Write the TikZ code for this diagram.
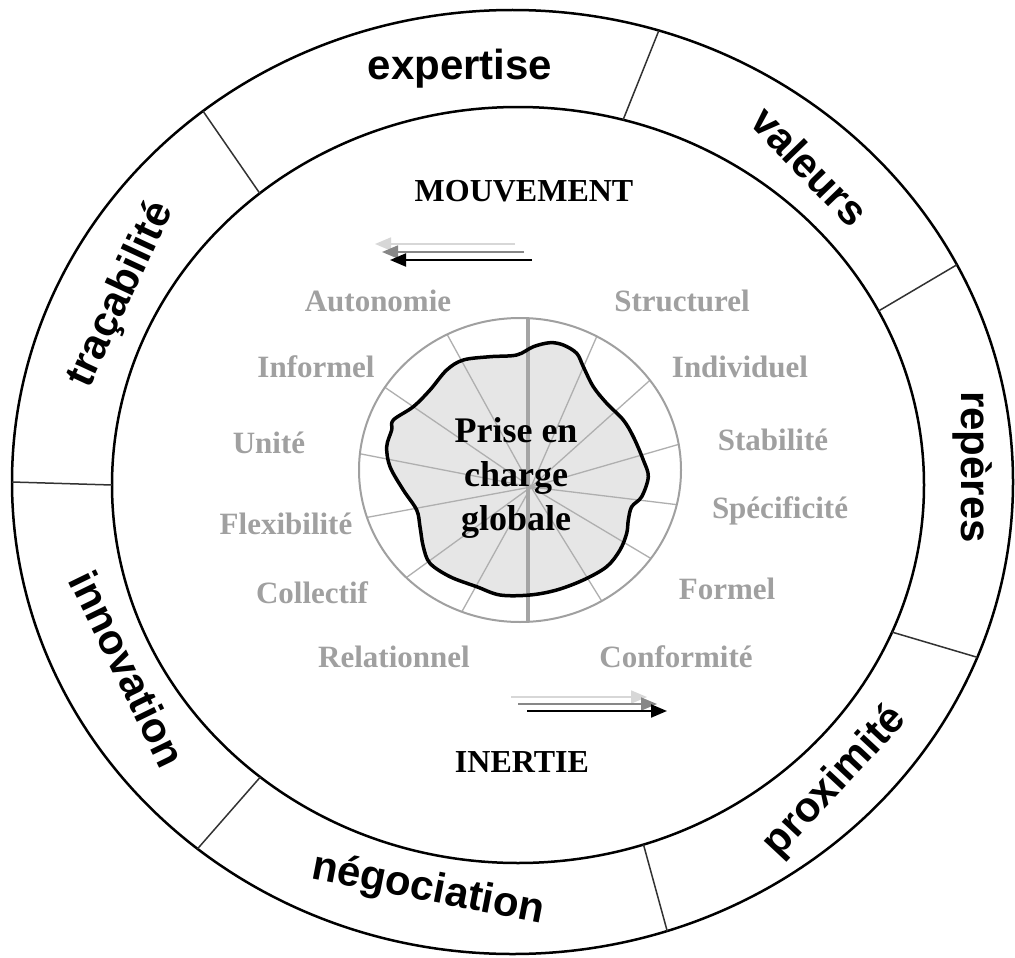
\documentclass[tikz,border=0pt]{standalone}
\usepackage{fontspec}
\setmainfont{Liberation Serif}
\newfontfamily\ringfont{Liberation Sans}
\usetikzlibrary{arrows.meta}
\definecolor{lblgray}{RGB}{160,160,160}
\definecolor{spokegray}{RGB}{175,175,175}
\definecolor{circgray}{RGB}{160,160,160}
\definecolor{vgray}{RGB}{165,165,165}
\definecolor{blobfill}{RGB}{230,230,230}
\definecolor{arrlight}{RGB}{215,215,215}
\definecolor{arrmid}{RGB}{135,135,135}
\definecolor{divgray}{RGB}{50,50,50}
\begin{document}
\begin{tikzpicture}[x=1pt,y=-1pt,
  ringword/.style={font=\ringfont\bfseries\fontsize{42}{48}\selectfont, inner sep=0pt},
  lbl/.style={font=\bfseries\fontsize{31}{36}\selectfont, text=lblgray, inner sep=0pt},
  titleword/.style={font=\bfseries\fontsize{32}{38}\selectfont, inner sep=0pt},
  centerword/.style={font=\bfseries\fontsize{36}{44}\selectfont, align=center, inner sep=0pt},
  ringline/.style={line width=2.5pt, black},
  divider/.style={line width=1.5pt, divgray},
  spoke/.style={line width=1.3pt, spokegray},
  arrhead/.style={-{Triangle[length=16pt,width=13pt]}},
]
\useasboundingbox[fill=white] (0,0) rectangle (1015,958);

% ring ellipses
\draw[ringline] (512.5,482) ellipse [x radius=500.5pt, y radius=472pt];
\draw[ringline] (518,485) ellipse [x radius=406pt, y radius=378pt];

% dividers: inner angle / outer angle
\foreach \ti/\to [count=\i] in {75/73, 129.5/128.2, 180/180, 230.6/231, 288/288, 337.1/338.2, 27.4/27.4}{
  \coordinate (din\i) at ({518+406*cos(\ti)},{485-378*sin(\ti)});
  \coordinate (dout\i) at ({512.5+500.5*cos(\to)},{482-472*sin(\to)});
  \draw[divider] (din\i) -- (dout\i);
}

% ring words
\node[ringword] (w1) at (460,69) {expertise};
\node[ringword, rotate=-46] (w2) at (810,166) {valeurs};
\node[ringword, rotate=-90] (w3) at (973,467) {repères};
\node[ringword, rotate=47] (w4) at (835,782) {proximité};
\node[ringword, rotate=-11] (w5) at (428,890) {négociation};
\node[ringword, rotate=-64] (w6) at (128,669) {innovation};
\node[ringword, rotate=65] (w7) at (121,295) {traçabilité};

% central blob fill
\fill[blobfill] plot[smooth cycle, tension=0.55] coordinates {
(550.0,342.7) (563.3,345) (576.7,353.3) (583.3,366.7) (593.3,386.7) (606.7,403.3)
(623.3,420) (633.3,436.7) (643.3,460) (648.3,476.7) (641.7,496.7) (631.7,506.7)
(628.3,520) (626.7,533.3) (620,550) (606.7,566.7) (583.3,580) (556.7,590)
(530,595) (500,595) (476.7,586.7) (450,576.7) (430,563.3) (423.3,546.7)
(420,526.7) (416.7,510) (403.3,490) (390,466.7) (386.7,446.7) (391.7,430)
(393.3,420) (413.3,406.7) (430,390) (446.7,370) (463.3,360) (490,356.7)
(516.7,355) (533.3,346.7)};

% spokes and vertical line, clipped to small circle
\begin{scope}
  \clip (520,470) ellipse [x radius=161pt, y radius=152pt];
  \coordinate (hub) at (531,487);
  \foreach \a in {118.8,145.7,169,190.5,216,241,66.4,41.9,16.1,-6.9,-30.8,-58.2}{
    \draw[spoke] (hub) -- ++({260*cos(\a)},{-260*sin(\a)});
  }
  \coordinate (vtop) at (528,300);
  \coordinate (vbot) at (528,650);
  \draw[line width=4.5pt, vgray] (vtop) -- (vbot);
\end{scope}
\draw[line width=2pt, circgray] (520,470) ellipse [x radius=161pt, y radius=152pt];

% blob outline
\draw[line width=3.5pt, black, line join=round] plot[smooth cycle, tension=0.55] coordinates {
(550.0,342.7) (563.3,345) (576.7,353.3) (583.3,366.7) (593.3,386.7) (606.7,403.3)
(623.3,420) (633.3,436.7) (643.3,460) (648.3,476.7) (641.7,496.7) (631.7,506.7)
(628.3,520) (626.7,533.3) (620,550) (606.7,566.7) (583.3,580) (556.7,590)
(530,595) (500,595) (476.7,586.7) (450,576.7) (430,563.3) (423.3,546.7)
(420,526.7) (416.7,510) (403.3,490) (390,466.7) (386.7,446.7) (391.7,430)
(393.3,420) (413.3,406.7) (430,390) (446.7,370) (463.3,360) (490,356.7)
(516.7,355) (533.3,346.7)};

\node[centerword] (pc) at (516,478) {Prise en\\charge\\globale};

% titles
\node[titleword] (mv) at (524,191) {MOUVEMENT};
\node[titleword] (in) at (522,762) {INERTIE};

% arrows (upper, pointing left)
\coordinate (ua1s) at (515,244); \coordinate (ua1e) at (375,244);
\coordinate (ua2s) at (524,252); \coordinate (ua2e) at (382,252);
\coordinate (ua3s) at (532,260); \coordinate (ua3e) at (390,260);
\draw[arrhead, line width=1.6pt, arrlight] (ua1s) -- (ua1e);
\draw[arrhead, line width=1.6pt, arrmid] (ua2s) -- (ua2e);
\draw[arrhead, line width=2pt, black] (ua3s) -- (ua3e);
% arrows (lower, pointing right)
\coordinate (la1s) at (511,697); \coordinate (la1e) at (647,697);
\coordinate (la2s) at (518,704); \coordinate (la2e) at (657,704);
\coordinate (la3s) at (527,711); \coordinate (la3e) at (667,711);
\draw[arrhead, line width=1.6pt, arrlight] (la1s) -- (la1e);
\draw[arrhead, line width=1.6pt, arrmid] (la2s) -- (la2e);
\draw[arrhead, line width=2pt, black] (la3s) -- (la3e);

% gray labels
\node[lbl] (l1) at (378,301) {Autonomie};
\node[lbl] (l2) at (682,301) {Structurel};
\node[lbl] (l3) at (316,367) {Informel};
\node[lbl] (l4) at (740,367) {Individuel};
\node[lbl] (l5) at (269,443) {Unité};
\node[lbl] (l6) at (773,440) {Stabilité};
\node[lbl] (l7) at (286,524) {Flexibilité};
\node[lbl] (l8) at (780,511) {Spécificité};
\node[lbl] (l9) at (312,593) {Collectif};
\node[lbl] (l10) at (727,589) {Formel};
\node[lbl] (l11) at (394,657) {Relationnel};
\node[lbl] (l12) at (676,657) {Conformité};
\end{tikzpicture}
\end{document}
